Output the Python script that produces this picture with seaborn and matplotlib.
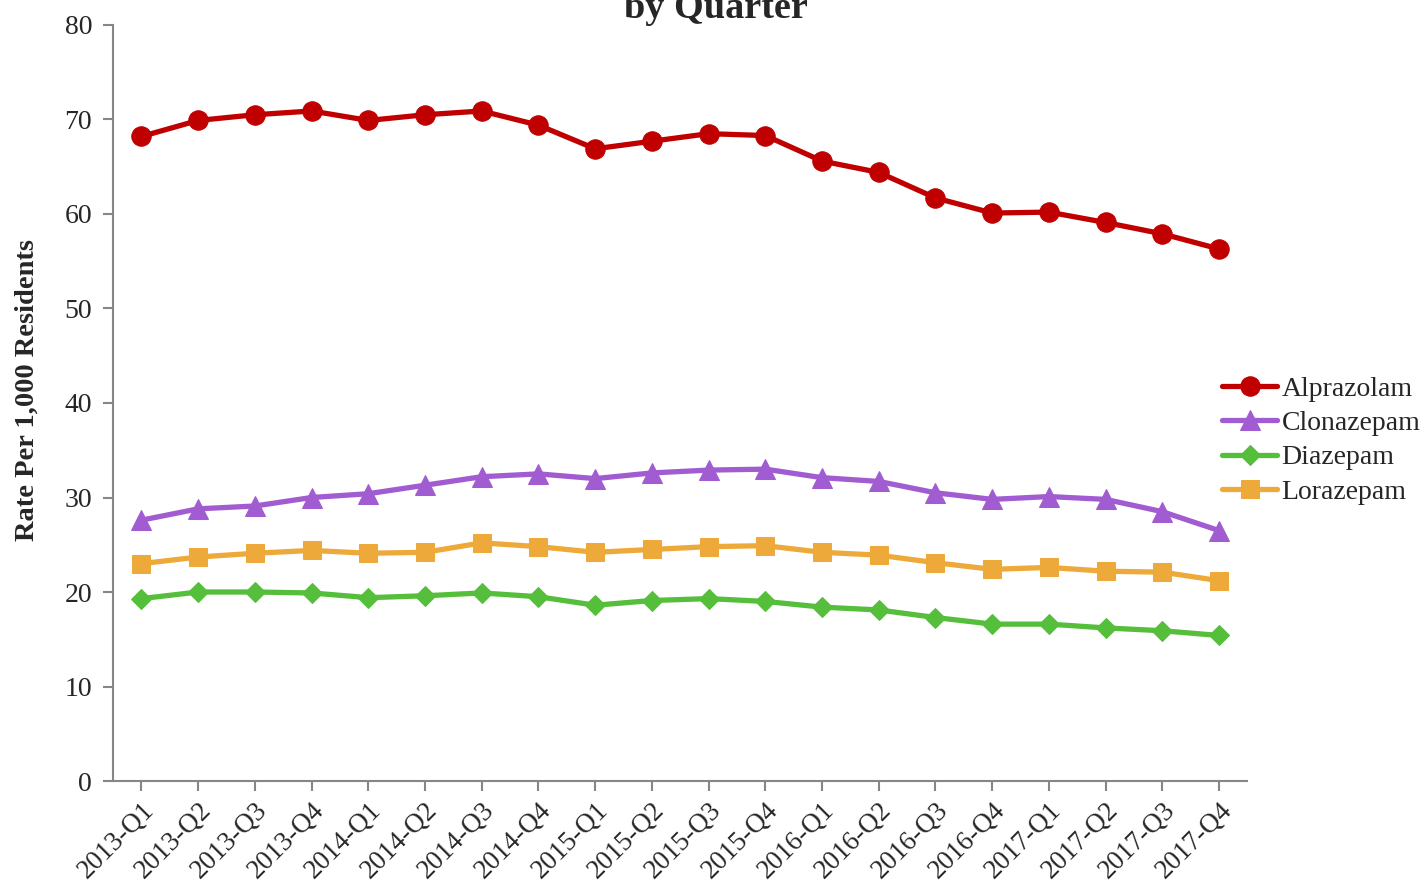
import matplotlib
matplotlib.use("Agg")
import matplotlib.pyplot as plt
import seaborn as sns
import pandas as pd
import numpy as np

quarters = ["2013-Q1", "2013-Q2", "2013-Q3", "2013-Q4",
            "2014-Q1", "2014-Q2", "2014-Q3", "2014-Q4",
            "2015-Q1", "2015-Q2", "2015-Q3", "2015-Q4",
            "2016-Q1", "2016-Q2", "2016-Q3", "2016-Q4",
            "2017-Q1", "2017-Q2", "2017-Q3", "2017-Q4"]

alprazolam = [68.2, 69.9, 70.5, 70.9, 69.9, 70.5, 70.9, 69.4, 66.9, 67.7,
              68.5, 68.3, 65.6, 64.4, 61.7, 60.1, 60.2, 59.1, 57.9, 56.3]
clonazepam = [27.6, 28.8, 29.1, 30.0, 30.4, 31.3, 32.2, 32.5, 32.0, 32.6,
              32.9, 33.0, 32.1, 31.7, 30.5, 29.8, 30.1, 29.8, 28.5, 26.5]
diazepam = [19.3, 20.0, 20.0, 19.9, 19.4, 19.6, 19.9, 19.5, 18.6, 19.1,
            19.3, 19.0, 18.4, 18.1, 17.3, 16.6, 16.6, 16.2, 15.9, 15.4]
lorazepam = [23.0, 23.7, 24.1, 24.4, 24.1, 24.2, 25.2, 24.8, 24.2, 24.5,
             24.8, 24.9, 24.2, 23.9, 23.1, 22.4, 22.6, 22.2, 22.1, 21.2]

drugs = ["Alprazolam", "Clonazepam", "Diazepam", "Lorazepam"]
series = [alprazolam, clonazepam, diazepam, lorazepam]
colors = ["#C00000", "#A05CD0", "#55BE3B", "#EDAA3A"]
markers = ["o", "^", "D", "s"]
msizes = [14, 14, 10, 13]

df = pd.DataFrame({
    "pos": np.tile(np.arange(len(quarters)), len(drugs)),
    "rate": np.concatenate(series),
    "drug": np.repeat(drugs, len(quarters)),
})

sns.set_theme(style="white")
plt.rcParams["font.family"] = ["Liberation Serif", "DejaVu Serif"]

fig = plt.figure(figsize=(14.24, 8.86), dpi=100)
ax = fig.add_axes([0.0794, 0.1185, 0.7966, 0.8533])

for name, col, mk, ms in zip(drugs, colors, markers, msizes):
    sns.lineplot(data=df[df["drug"] == name], x="pos", y="rate", ax=ax,
                 color=col, marker=mk, markersize=ms, markeredgecolor=col,
                 linewidth=3.8, label=name, legend=False)

ax.set_xlim(-0.5, len(quarters) - 0.5)
ax.set_ylim(0, 80)
ax.set_yticks(range(0, 81, 10))
ax.set_xticks(range(len(quarters)))
ax.set_xticklabels(quarters, rotation=45, ha="right", rotation_mode="anchor",
                   fontsize=19.5)
ax.tick_params(axis="y", labelsize=20, length=7, width=1.5, color="#868686",
               direction="out", left=True, pad=8)
ax.tick_params(axis="x", length=7, width=1.5, color="#868686",
               direction="out", bottom=True, pad=5)

ax.set_xlabel("")
ax.set_ylabel("Rate Per 1,000 Residents", fontsize=20.5, fontweight="bold")
ax.yaxis.set_label_coords(-0.065, 0.517)
for s in ["top", "right"]:
    ax.spines[s].set_visible(False)
for s in ["left", "bottom"]:
    ax.spines[s].set_color("#868686")
    ax.spines[s].set_linewidth(1.5)

fig.text(0.503, 1 - 18 / 886, "by Quarter", ha="center", va="baseline",
         fontsize=27.5, fontweight="bold")

handles, labels = ax.get_legend_handles_labels()
fig.legend(handles, labels, loc="center left",
           bbox_to_anchor=(0.858, 0.503), frameon=False, fontsize=20,
           handlelength=2.0, handletextpad=0.15, labelspacing=0.32,
           borderpad=0, borderaxespad=0)

fig.savefig("out.png", dpi=100)
